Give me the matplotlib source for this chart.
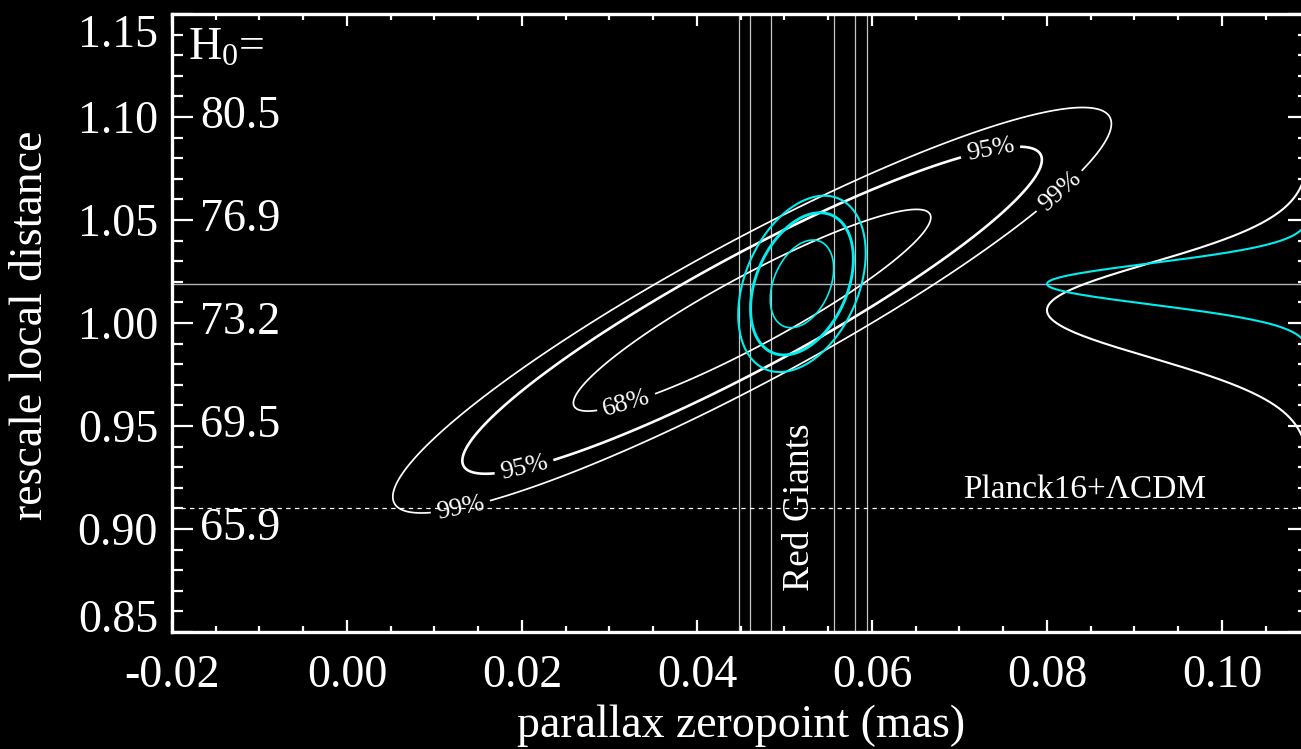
import numpy as np
import matplotlib
matplotlib.use("Agg")
import matplotlib.pyplot as plt
from matplotlib.ticker import FixedLocator, FixedFormatter, MultipleLocator
from matplotlib.transforms import blended_transform_factory

plt.rcParams["font.family"] = ["Liberation Serif", "DejaVu Serif"]
plt.rcParams["mathtext.fontset"] = "custom"
plt.rcParams["mathtext.rm"] = "Liberation Serif"
plt.rcParams["mathtext.it"] = "Liberation Serif:italic"
plt.rcParams["mathtext.default"] = "regular"
plt.rcParams["axes.unicode_minus"] = False

# ---- axes ranges and tick labels ----
X_RANGE = [-0.02, 0.11]
Y_RANGE = [0.85, 1.15]
X_TICKS = [-0.02, 0.00, 0.02, 0.04, 0.06, 0.08, 0.10]
X_TICK_LABELS = ["-0.02", "0.00", "0.02", "0.04", "0.06", "0.08", "0.10"]
Y_TICKS = [0.85, 0.90, 0.95, 1.00, 1.05, 1.10, 1.15]
Y_TICK_LABELS = ["0.85", "0.90", "0.95", "1.00", "1.05", "1.10", "1.15"]
H0_TICKS = [1.10, 1.05, 1.00, 0.95, 0.90]
H0_LABELS = ["80.5", "76.9", "73.2", "69.5", "65.9"]

# ---- 2D Gaussian likelihoods: mean (zeropoint, scale), sigma, correlation ----
BROAD_MEAN = [0.0463, 1.0062]
BROAD_SIGMA = [0.01353, 0.03243]
BROAD_RHO = 0.92

RG_MEAN = [0.0520, 1.0190]
RG_SIGMA = [0.0024, 0.0141]
RG_RHO = 0.35

CONF_LEVELS = [0.68, 0.95, 0.99]
CONF_LABELS = ["68%", "95%", "99%"]

# ---- reference lines ----
RED_GIANT_ZP = [0.0448, 0.0461, 0.0485, 0.0557, 0.0581, 0.0594]
BEST_SCALE = 1.019
PLANCK_SCALE = 0.91

# marginal curves along the right edge
MARGINAL_PEAK_X = 0.08
MARGINAL_BASE_X = 0.11

FG = "white"
CYAN = "#00eeee"


def delta_chi2(x, y, mean, sigma, rho):
    u = (x - mean[0]) / sigma[0]
    v = (y - mean[1]) / sigma[1]
    return (u * u - 2.0 * rho * u * v + v * v) / (1.0 - rho ** 2)


fig = plt.figure(figsize=(13.01, 7.49), dpi=100, facecolor="black")
ax = fig.add_axes([0.1322, 0.1562, 0.8743, 0.8251], facecolor="black")
ax.set_xlim(*X_RANGE)
ax.set_ylim(*Y_RANGE)

for sp in ax.spines.values():
    sp.set_color(FG)
    sp.set_linewidth(2.4)

ax.xaxis.set_major_locator(FixedLocator(X_TICKS))
ax.xaxis.set_major_formatter(FixedFormatter(X_TICK_LABELS))
ax.yaxis.set_major_locator(FixedLocator(Y_TICKS))
ax.yaxis.set_major_formatter(FixedFormatter(Y_TICK_LABELS))
ax.xaxis.set_minor_locator(MultipleLocator(0.005))
ax.yaxis.set_minor_locator(MultipleLocator(0.01))

ax.tick_params(which="both", direction="in", colors=FG, top=True, right=True,
               width=1.6, labelsize=33)
ax.tick_params(axis="x", which="major", length=8.6, pad=16)
ax.tick_params(axis="x", which="minor", length=4.3)
ax.tick_params(axis="y", which="major", length=15, pad=10)
ax.tick_params(axis="y", which="minor", length=8)

yt = ax.yaxis.get_major_ticks()
yt[0].label1.set_va("baseline")
yt[-1].label1.set_va("top")

ax.set_xlabel("parallax zeropoint (mas)", fontsize=33, color=FG, va="baseline")
ax.xaxis.set_label_coords(0.5, -0.170)
ax.set_ylabel("rescale local distance", fontsize=33, color=FG, va="center")
ax.yaxis.set_label_coords(-0.124, 0.497)

# H0 scale printed inside the frame
ytrans = blended_transform_factory(ax.transAxes, ax.transData)
for yv, lab in zip(H0_TICKS, H0_LABELS):
    ax.text(0.0246, yv, lab, transform=ytrans, ha="left", va="center",
            fontsize=33, color=FG)
ax.text(0.0141, 1.1437, r"H$_0$=", transform=ytrans, ha="left", va="top",
        fontsize=33, color=FG)

# reference lines
for zp in RED_GIANT_ZP:
    ax.axvline(zp, color="#c4c4c4", lw=0.9, zorder=1)
ax.axhline(BEST_SCALE, color="#b4b4b4", lw=1.0, zorder=1)
ax.axhline(PLANCK_SCALE, color=FG, lw=0.9, ls=(0, (3.5, 3.5)), zorder=1)

ax.text(0.0518, 0.9107, "Red Giants", rotation=90, ha="center", va="center",
        fontsize=27, color=FG)
ax.text(0.0843, 0.915, "Planck16+\u039bCDM", ha="center", va="baseline",
        fontsize=24, color=FG)

# likelihood contours
xg = np.linspace(X_RANGE[0], X_RANGE[1], 700)
yg = np.linspace(Y_RANGE[0], Y_RANGE[1], 500)
X, Y = np.meshgrid(xg, yg)
levels = -2.0 * np.log(1.0 - np.array(CONF_LEVELS))

z_broad = delta_chi2(X, Y, BROAD_MEAN, BROAD_SIGMA, BROAD_RHO)
cs = ax.contour(X, Y, z_broad, levels=levels, colors=FG,
                linewidths=[1.25, 1.9, 1.25], zorder=3)
ax.clabel(cs, fmt=dict(zip(levels, CONF_LABELS)), fontsize=19, colors=FG,
          inline=True, inline_spacing=6,
          manual=[(0.0320, 0.9602), (0.0203, 0.9290), (0.0734, 1.0864),
                  (0.0130, 0.9100), (0.0810, 1.0660)])

z_rg = delta_chi2(X, Y, RG_MEAN, RG_SIGMA, RG_RHO)
ax.contour(X, Y, z_rg, levels=levels, colors=CYAN,
           linewidths=[1.2, 2.1, 1.5], zorder=4)

# marginal distributions in the distance scale
ys = np.linspace(Y_RANGE[0], Y_RANGE[1], 800)
amp = MARGINAL_BASE_X - MARGINAL_PEAK_X
m_broad = MARGINAL_BASE_X - amp * np.exp(-((ys - BROAD_MEAN[1]) / BROAD_SIGMA[1]) ** 2)
m_rg = MARGINAL_BASE_X - amp * np.exp(-((ys - RG_MEAN[1]) / RG_SIGMA[1]) ** 2)
ax.plot(m_broad, ys, color=FG, lw=1.5, zorder=4)
ax.plot(m_rg, ys, color=CYAN, lw=1.5, zorder=5)

fig.savefig("out.png", dpi=100, facecolor="black")
